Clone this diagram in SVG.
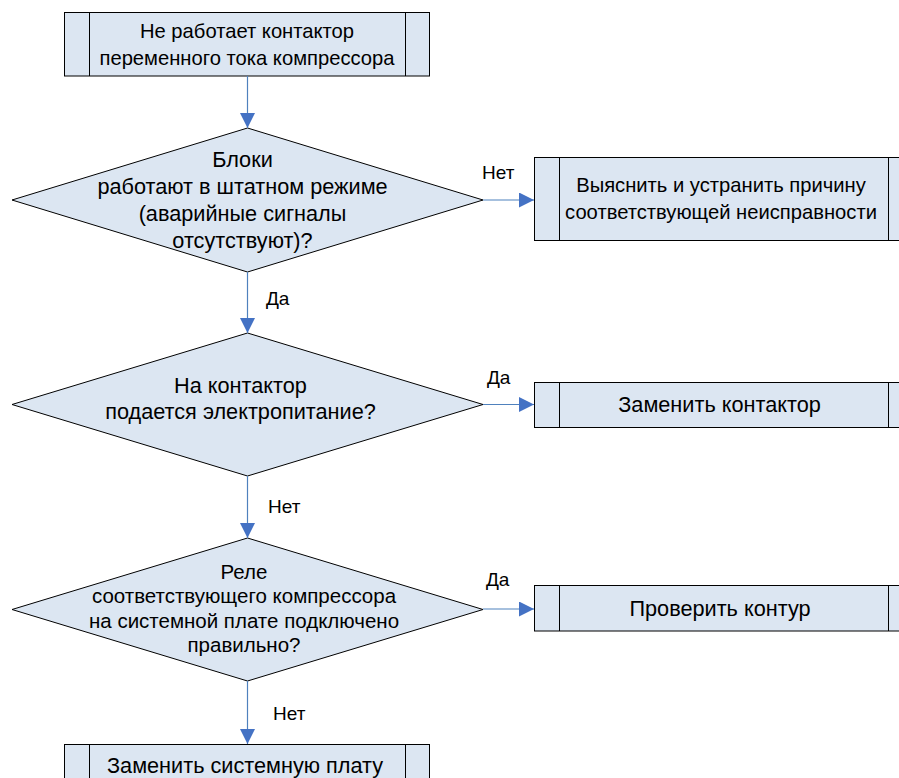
<svg xmlns="http://www.w3.org/2000/svg" width="899" height="778" viewBox="0 0 899 778">
  <style>
    .shape { fill: #DCE6F2; stroke: #000000; stroke-width: 1; }
    .bar { fill: none; stroke: #000000; stroke-width: 1; }
    .txt { font-family: "Liberation Sans", Arial, sans-serif; font-size: 21.7px; fill: #000000; text-anchor: middle; }
    .sm { font-size: 20.2px; }
    .lbl { font-family: "Liberation Sans", Arial, sans-serif; font-size: 19px; fill: #000000; }
    .wire { fill: none; stroke: #4F81BD; stroke-width: 1.2; }
  </style>
  <defs>
    <marker id="arrow" markerWidth="15" markerHeight="15" refX="15" refY="7.5" orient="auto" markerUnits="userSpaceOnUse">
      <path d="M0,0 L15,7.5 L0,15 Z" fill="#4472C4"/>
    </marker>
  </defs>
  <rect width="899" height="778" fill="#FFFFFF"/>

  <!-- Start: predefined process box -->
  <g id="start">
    <rect class="shape" x="64.5" y="12.5" width="365" height="63.5"/>
    <line class="bar" x1="89.5" y1="12.5" x2="89.5" y2="76"/>
    <line class="bar" x1="405.5" y1="12.5" x2="405.5" y2="76"/>
    <text class="txt sm" x="247" y="37.5">Не работает контактор</text>
    <text class="txt sm" x="247" y="64.5">переменного тока компрессора</text>
  </g>

  <!-- Decision 1 -->
  <g id="q-blocks">
    <polygon class="shape" points="247.5,128 483,200 247.5,272 12,200"/>
    <text class="txt" x="242.5" y="166.5">Блоки</text>
    <text class="txt" x="242.5" y="193.5">работают в штатном режиме</text>
    <text class="txt" x="242.5" y="220.5">(аварийные сигналы</text>
    <text class="txt" x="242.5" y="247.5">отсутствуют)?</text>
  </g>

  <!-- Action: find cause -->
  <g id="fix-cause">
    <rect class="shape" x="534.5" y="157.5" width="380" height="83"/>
    <line class="bar" x1="559.5" y1="157.5" x2="559.5" y2="240.5"/>
    <line class="bar" x1="888.5" y1="157.5" x2="888.5" y2="240.5"/>
    <text class="txt sm" x="721" y="192">Выяснить и устранить причину</text>
    <text class="txt sm" x="721" y="219">соответствующей неисправности</text>
  </g>

  <!-- Decision 2 -->
  <g id="q-power">
    <polygon class="shape" points="247.5,333 483,404.5 247.5,476 12,404.5"/>
    <text class="txt" x="240.5" y="392.5">На контактор</text>
    <text class="txt" x="240.5" y="418.5">подается электропитание?</text>
  </g>

  <!-- Action: replace contactor -->
  <g id="replace-contactor">
    <rect class="shape" x="534.5" y="382.5" width="380" height="45"/>
    <line class="bar" x1="559.5" y1="382.5" x2="559.5" y2="427.5"/>
    <line class="bar" x1="888.5" y1="382.5" x2="888.5" y2="427.5"/>
    <text class="txt" x="719.5" y="411.5">Заменить контактор</text>
  </g>

  <!-- Decision 3 -->
  <g id="q-relay">
    <polygon class="shape" points="247.5,538 483,609.5 247.5,681 12,609.5"/>
    <text class="txt" x="244" y="578.5" style="font-size:20.5px">Реле</text>
    <text class="txt" x="244" y="603" style="font-size:20.5px">соответствующего компрессора</text>
    <text class="txt" x="244" y="627.5" style="font-size:20.5px">на системной плате подключено</text>
    <text class="txt" x="244" y="652" style="font-size:20.5px">правильно?</text>
  </g>

  <!-- Action: check circuit -->
  <g id="check-circuit">
    <rect class="shape" x="534.5" y="585.5" width="380" height="45.5"/>
    <line class="bar" x1="559.5" y1="585.5" x2="559.5" y2="631"/>
    <line class="bar" x1="888.5" y1="585.5" x2="888.5" y2="631"/>
    <text class="txt" x="720" y="615.5">Проверить контур</text>
  </g>

  <!-- Action: replace board -->
  <g id="replace-board">
    <rect class="shape" x="64.5" y="744.5" width="365" height="60"/>
    <line class="bar" x1="89.5" y1="744.5" x2="89.5" y2="804"/>
    <line class="bar" x1="405.5" y1="744.5" x2="405.5" y2="804"/>
    <text class="txt" x="245" y="773">Заменить системную плату</text>
  </g>

  <!-- Connectors -->
  <g id="connectors">
    <line class="wire" x1="247.5" y1="76" x2="247.5" y2="128" marker-end="url(#arrow)"/>
    <line class="wire" x1="483" y1="200" x2="534" y2="200" marker-end="url(#arrow)"/>
    <line class="wire" x1="247.5" y1="272" x2="247.5" y2="333" marker-end="url(#arrow)"/>
    <line class="wire" x1="483" y1="404.5" x2="534" y2="404.5" marker-end="url(#arrow)"/>
    <line class="wire" x1="247.5" y1="476" x2="247.5" y2="538" marker-end="url(#arrow)"/>
    <line class="wire" x1="483" y1="609" x2="534" y2="609" marker-end="url(#arrow)"/>
    <line class="wire" x1="247.5" y1="681" x2="247.5" y2="744" marker-end="url(#arrow)"/>

    <text class="lbl" x="482" y="179">Нет</text>
    <text class="lbl" x="266" y="305">Да</text>
    <text class="lbl" x="487" y="384">Да</text>
    <text class="lbl" x="268" y="513">Нет</text>
    <text class="lbl" x="486" y="586">Да</text>
    <text class="lbl" x="273" y="720">Нет</text>
  </g>
</svg>
